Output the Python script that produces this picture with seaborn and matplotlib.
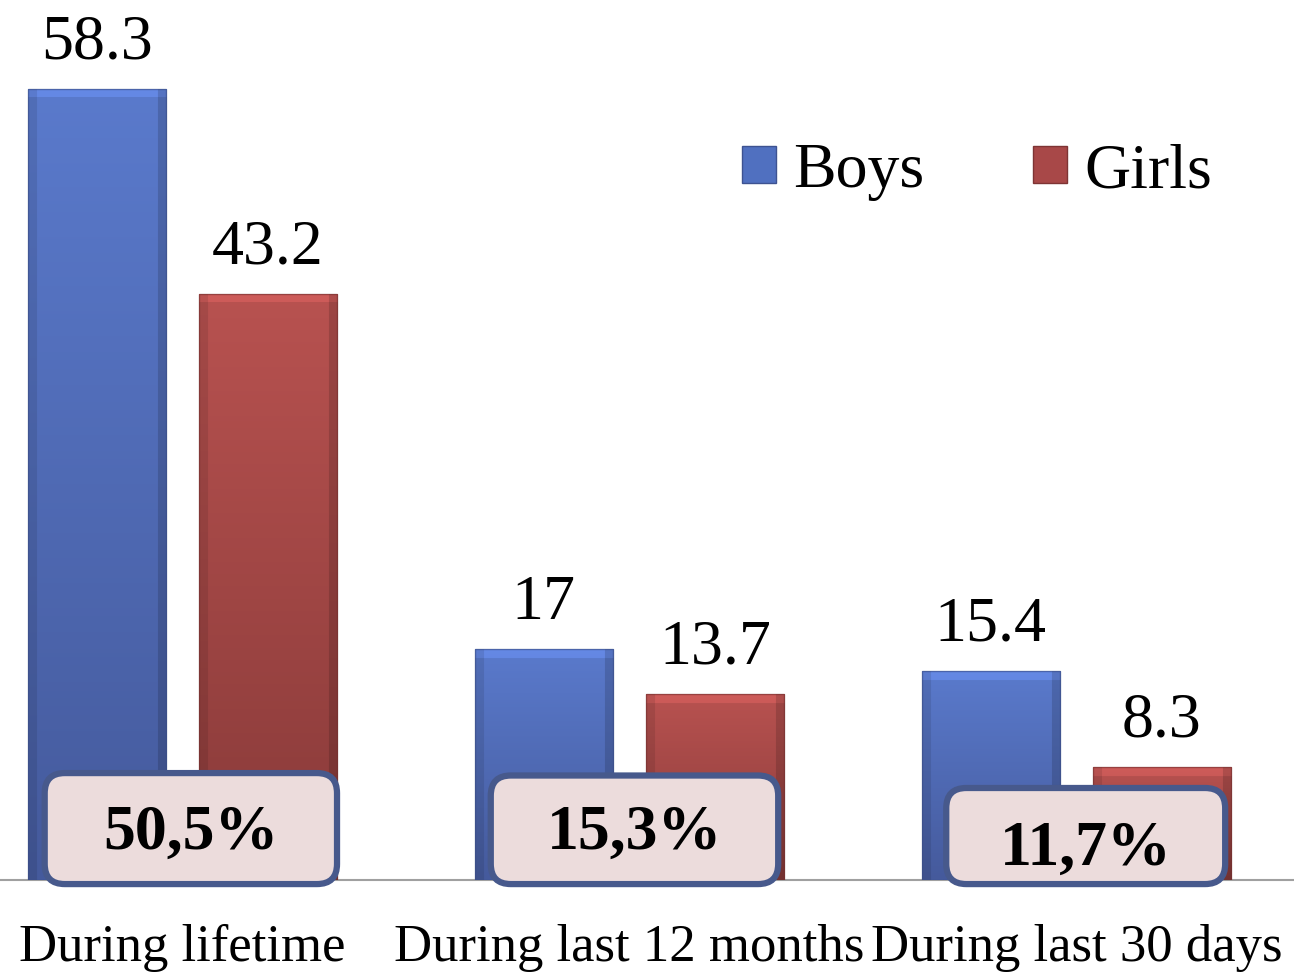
import matplotlib
matplotlib.use('Agg')
import matplotlib.pyplot as plt
from matplotlib.patches import FancyBboxPatch, Patch
import numpy as np
import pandas as pd
import seaborn as sns

# data
categories = ['During lifetime', 'During last 12 months', 'During last 30 days']
boys = [58.3, 17, 15.4]
girls = [43.2, 13.7, 8.3]
series_names = ['Boys', 'Girls']
totals = ['50,5%', '15,3%', '11,7%']

# layout of the rounded total boxes (x offset left/right from category centre, top in data units, text y)
box_left = [-0.308, -0.31, -0.291]
box_right = [0.346, 0.333, 0.333]
box_top = [7.88, 7.7, 6.78]
text_y = [3.4, 3.4, 2.25]

blue_top, blue_bot = np.array([0x5a, 0x7a, 0xcc]) / 255, np.array([0x45, 0x5a, 0x9c]) / 255
red_top, red_bot = np.array([0xb8, 0x52, 0x50]) / 255, np.array([0x88, 0x3a, 0x39]) / 255

sns.set_theme(style='white')
plt.rcParams['font.family'] = ['Liberation Serif', 'DejaVu Serif']
plt.rcParams['text.color'] = 'black'
plt.rcParams['xtick.color'] = 'black'
plt.rcParams['xtick.labelcolor'] = 'black'

df = pd.DataFrame({
    'cat': categories * 2,
    'sex': [series_names[0]] * 3 + [series_names[1]] * 3,
    'val': boys + girls,
})

fig = plt.figure(figsize=(12.94, 9.77), dpi=100)
ax = fig.add_axes([0, 97 / 977, 1, 880 / 977])

sns.barplot(data=df, x='cat', y='val', hue='sex', palette=['#5070c0', '#a84848'],
            width=0.765, gap=0.19, ax=ax, legend=False, errorbar=None)

xlim = (-0.408, 2.487)
ylim = (0, 64.85)

# gradient fill with bevelled edges
def grad_img(top, bot, w_px, h_px, bevel=9):
    ny = max(int(h_px), 2)
    nx = max(int(w_px), 2)
    t = np.linspace(1, 0, ny)[:, None, None]  # row 0 = top of image
    base = bot + (top - bot) * t
    img = np.repeat(base, nx, axis=1)
    xs = np.arange(nx)
    ys = np.arange(ny)
    edge_l = xs < bevel
    edge_r = xs >= nx - bevel
    img[:, edge_l] = img[:, edge_l] * 0.9
    img[:, edge_r] = img[:, edge_r] * 0.85
    top_rows = ys < bevel
    img[top_rows, :] = np.clip(img[top_rows, :] * 1.12, 0, 1)
    return img

px_x = 1294 / (xlim[1] - xlim[0])
px_y = 880 / (ylim[1] - ylim[0])
for cont, (ct, cb) in zip(ax.containers, [(blue_top, blue_bot), (red_top, red_bot)]):
    for bar in cont:
        x0 = bar.get_x()
        w = bar.get_width()
        h = bar.get_height()
        bar.set_facecolor('none')
        bar.set_edgecolor((cb * 0.85).tolist() + [0.6])
        bar.set_linewidth(1)
        img = grad_img(ct, cb, w * px_x, h * px_y)
        im = ax.imshow(img, extent=[x0, x0 + w, 0, h], aspect='auto', zorder=1.5,
                       interpolation='bilinear')
        im.set_clip_path(bar)
        bar.set_zorder(2)

    for bar, v in zip(cont, cont.datavalues):
        ax.annotate(f'{v:g}', xy=(bar.get_x() + bar.get_width() / 2, bar.get_height()),
                    xytext=(0, 22), textcoords='offset points', ha='center',
                    va='baseline', fontsize=46, color='black')

# total boxes
aspect = px_x / px_y
for i, txt in enumerate(totals):
    x0 = i + box_left[i]
    x1 = i + box_right[i]
    box = FancyBboxPatch((x0, -0.3), x1 - x0, box_top[i] + 0.3,
                         boxstyle='round,pad=0,rounding_size=0.045',
                         mutation_aspect=aspect, facecolor='#ecdcdc',
                         edgecolor='#47598c', linewidth=4.5, zorder=5,
                         clip_on=False)
    ax.add_patch(box)
    ax.text((x0 + x1) / 2, text_y[i], txt, ha='center', va='center',
            fontsize=46, fontweight='bold', color='black', zorder=6)

ax.set_xlim(*xlim)
ax.set_ylim(*ylim)
ax.set_xlabel('')
ax.set_ylabel('')
ax.set_yticks([])
ax.tick_params(axis='x', length=0, pad=32, labelsize=38, labelcolor='black')
for s in ['top', 'left', 'right']:
    ax.spines[s].set_visible(False)
ax.spines['bottom'].set_color('#a0a0a0')
ax.spines['bottom'].set_linewidth(1.5)
ax.spines['bottom'].set_zorder(0.5)

handles = [Patch(facecolor='#5070c0', edgecolor='#3d5291'),
           Patch(facecolor='#a84848', edgecolor='#7e3434')]
fig.legend(handles, series_names, loc='center left', bbox_to_anchor=(742 / 1294, 1 - 172 / 977),
           ncol=2, frameon=False, fontsize=46, handlelength=0.53, handleheight=0.53,
           handletextpad=0.27, columnspacing=1.7, borderpad=0, borderaxespad=0)

fig.savefig('out.png', dpi=100)
